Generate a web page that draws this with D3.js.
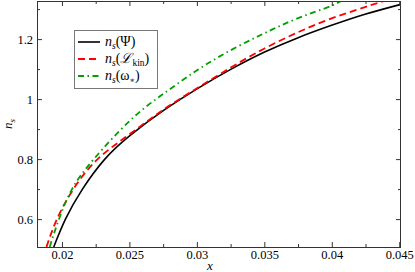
<!DOCTYPE html>
<html>
<head>
<meta charset="utf-8">
<script src="https://d3js.org/d3.v7.min.js"></script>
<style>
  body { margin: 0; background: #fff; }
  svg { display: block; }
  text { font-family: "Liberation Serif", "Times New Roman", "DejaVu Serif", serif; fill: #000; }
  .frame { fill: none; stroke: #333; stroke-width: 1; }
  .axis path { display: none; }
  .axis line { stroke: #333; }
  .axis text { font-size: 12.5px; }
</style>
</head>
<body>
<svg id="chart" width="415" height="272"></svg>
<script>
// series, [x, n_s]
const psiX   = [0.01939, 0.02026, 0.02152, 0.02318, 0.02508, 0.02756, 0.03004, 0.03251, 0.03498, 0.03746, 0.03993, 0.0424, 0.04513];
const psiY   = [0.507, 0.6, 0.7, 0.8, 0.88, 0.963, 1.035, 1.099, 1.156, 1.204, 1.245, 1.282, 1.316];
const kinX   = [0.01885, 0.01963, 0.02085, 0.02265, 0.02508, 0.02756, 0.03004, 0.03251, 0.03498, 0.03746, 0.03993, 0.0424, 0.04387, 0.0446];
const kinY   = [0.507, 0.6, 0.7, 0.8, 0.885, 0.966, 1.037, 1.105, 1.168, 1.222, 1.268, 1.306, 1.327, 1.337];
const omegaX = [0.01909, 0.01978, 0.02075, 0.02236, 0.02508, 0.02756, 0.03004, 0.03251, 0.03498, 0.03746, 0.03993, 0.04068, 0.0415];
const omegaY = [0.507, 0.6, 0.7, 0.8, 0.93, 1.019, 1.097, 1.163, 1.219, 1.269, 1.31, 1.327, 1.34];

const xTicks = [0.02, 0.025, 0.03, 0.035, 0.04, 0.045];
const xMinor = [0.0225, 0.0275, 0.0325, 0.0375, 0.0425];
const yTicks = [0.6, 0.8, 1, 1.2];
const yMinor = [0.7, 0.9, 1.1, 1.3];

const series = [
  { xs: psiX, ys: psiY, color: '#000', dash: null, width: 1.6 },
  { xs: kinX, ys: kinY, color: '#f00', dash: '7,4', width: 1.8 },
  { xs: omegaX, ys: omegaY, color: '#00a000', dash: '6,3.5,1.5,3.5', width: 1.8 }
];

const pL = 37, pR = 401, pT = 1, pB = 247;
const svg = d3.select('#chart');

const x = d3.scaleLinear().domain([0.01815, 0.04513]).range([pL, pR]);
const y = d3.scaleLinear().domain([0.507, 1.327]).range([pB, pT]);

svg.append('defs').append('clipPath').attr('id', 'clip')
  .append('rect').attr('x', pL).attr('y', pT)
  .attr('width', pR - pL).attr('height', pB - pT);

// lines
const line = d3.line().x(d => x(d[0])).y(d => y(d[1])).curve(d3.curveNatural);
const plot = svg.append('g').attr('clip-path', 'url(#clip)');
series.forEach(s => {
  plot.append('path')
    .datum(s.xs.map((v, i) => [v, s.ys[i]]))
    .attr('d', line)
    .attr('fill', 'none')
    .attr('stroke', s.color)
    .attr('stroke-width', s.width)
    .attr('stroke-dasharray', s.dash);
});

// axes, ticks point inward
const fmt = d3.format('');
svg.append('g').attr('class', 'axis').attr('transform', `translate(0,${pB})`)
  .call(d3.axisBottom(x).tickValues(xTicks).tickFormat(fmt).tickSizeInner(-5).tickSizeOuter(0).tickPadding(3));
svg.append('g').attr('class', 'axis').attr('transform', `translate(0,${pB})`)
  .call(d3.axisBottom(x).tickValues(xMinor).tickFormat('').tickSizeInner(-3).tickSizeOuter(0));
svg.append('g').attr('class', 'axis').attr('transform', `translate(0,${pT})`)
  .call(d3.axisTop(x).tickValues(xTicks).tickFormat('').tickSizeInner(-5).tickSizeOuter(0));
svg.append('g').attr('class', 'axis').attr('transform', `translate(0,${pT})`)
  .call(d3.axisTop(x).tickValues(xMinor).tickFormat('').tickSizeInner(-3).tickSizeOuter(0));

svg.append('g').attr('class', 'axis').attr('transform', `translate(${pL},0)`)
  .call(d3.axisLeft(y).tickValues(yTicks).tickFormat(fmt).tickSizeInner(-5).tickSizeOuter(0).tickPadding(4));
svg.append('g').attr('class', 'axis').attr('transform', `translate(${pL},0)`)
  .call(d3.axisLeft(y).tickValues(yMinor).tickFormat('').tickSizeInner(-3).tickSizeOuter(0));
svg.append('g').attr('class', 'axis').attr('transform', `translate(${pR},0)`)
  .call(d3.axisRight(y).tickValues(yTicks).tickFormat('').tickSizeInner(-5).tickSizeOuter(0));
svg.append('g').attr('class', 'axis').attr('transform', `translate(${pR},0)`)
  .call(d3.axisRight(y).tickValues(yMinor).tickFormat('').tickSizeInner(-3).tickSizeOuter(0));

svg.append('rect').attr('class', 'frame')
  .attr('x', pL + 0.5).attr('y', pT + 0.5)
  .attr('width', pR - pL - 1).attr('height', pB - pT);

// axis titles
svg.append('text').attr('x', 210).attr('y', 270).attr('text-anchor', 'middle')
  .attr('font-size', 13).attr('font-style', 'italic').text('x');

const yl = svg.append('text').attr('transform', 'translate(12,124) rotate(-90)')
  .attr('text-anchor', 'middle').attr('font-size', 13);
yl.append('tspan').attr('font-style', 'italic').text('n');
yl.append('tspan').attr('font-style', 'italic').attr('font-size', 9).attr('dy', 3).text('s');

// legend
const legend = svg.append('g');
legend.append('rect').attr('x', 74.5).attr('y', 30.5).attr('width', 83).attr('height', 58)
  .attr('fill', '#fff').attr('stroke', '#777').attr('stroke-width', 1);

const rowY = [42, 59, 76];
series.forEach((s, i) => {
  legend.append('line').attr('x1', 78).attr('x2', 100).attr('y1', rowY[i]).attr('y2', rowY[i])
    .attr('stroke', s.color).attr('stroke-width', s.width).attr('stroke-dasharray', s.dash);
  const t = legend.append('text').attr('x', 105).attr('y', rowY[i] + 4).attr('font-size', 14);
  t.append('tspan').attr('font-style', 'italic').text('n');
  t.append('tspan').attr('font-style', 'italic').attr('font-size', 9.5).attr('dy', 3).text('s');
  if (i === 0) {
    t.append('tspan').attr('dy', -3).text('(Ψ)');
  } else if (i === 1) {
    t.append('tspan').attr('dy', -3).text('(');
    t.append('tspan').attr('font-style', 'italic').text('ℒ');
    t.append('tspan').attr('font-size', 9.5).attr('dy', 3).text('kin');
    t.append('tspan').attr('dy', -3).text(')');
  } else {
    t.append('tspan').attr('dy', -3).text('(ω');
    t.append('tspan').attr('font-size', 8).attr('dy', 3).text('∗');
    t.append('tspan').attr('dy', -3).text(')');
  }
});
</script>
</body>
</html>
